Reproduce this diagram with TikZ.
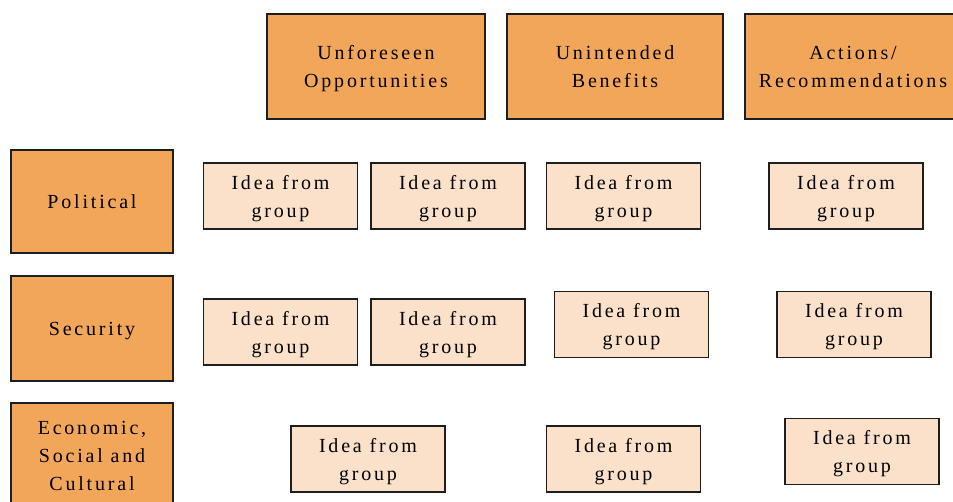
\documentclass[tikz,border=0pt]{standalone}
\usepackage{fontspec}
\setmainfont{Liberation Serif}[LetterSpace=14]
\definecolor{headfill}{HTML}{F2A65A}
\definecolor{ideafill}{HTML}{FBE1C9}
\definecolor{edge}{HTML}{1E1E1E}
\begin{document}
\begin{tikzpicture}[x=1pt,y=-1pt,
  every node/.style={font=\fontsize{20}{28}\selectfont, align=center, inner sep=0pt, text depth=0pt},
  headbox/.style={draw=edge, line width=1.2pt, fill=headfill, minimum width=#1},
  headbox/.default=162pt,
  ideabox/.style={draw=edge, line width=1.2pt, fill=ideafill, minimum width=154pt, minimum height=66pt}]
\clip (0,0) rectangle (953,502);
\useasboundingbox (0,0) rectangle (953,502);

% column headings
\node[headbox=218pt, minimum height=105pt] (opp) at (376,66.5) {Unforeseen\\Opportunities};
\node[headbox=216pt, minimum height=105pt] (ben) at (615,66.5) {Unintended\\Benefits};
\node[headbox=216pt, minimum height=105pt] (act) at (853,66.5) {Actions/\\Recommendations};

% row headings
\node[headbox, minimum height=103pt] (pol) at (92,201.5) {Political};
\node[headbox, minimum height=105pt] (sec) at (92,328.5) {Security};
\node[headbox, minimum height=106pt] (eco) at (92,456) {Economic,\\Social and\\Cultural};

% ideas: political
\node[ideabox] (p1) at (280.5,196) {Idea from\\group};
\node[ideabox] (p2) at (448,196) {Idea from\\group};
\node[ideabox] (p3) at (623.5,196) {Idea from\\group};
\node[ideabox] (p4) at (846,196) {Idea from\\group};

% ideas: security
\node[ideabox] (s1) at (280.5,332) {Idea from\\group};
\node[ideabox] (s2) at (448,332) {Idea from\\group};
\node[ideabox] (s3) at (631.5,324.5) {Idea from\\group};
\node[ideabox] (s4) at (854,324.5) {Idea from\\group};

% ideas: economic, social and cultural
\node[ideabox] (e1) at (368,459) {Idea from\\group};
\node[ideabox] (e2) at (623.5,459) {Idea from\\group};
\node[ideabox] (e3) at (862,451.5) {Idea from\\group};
\end{tikzpicture}
\end{document}
